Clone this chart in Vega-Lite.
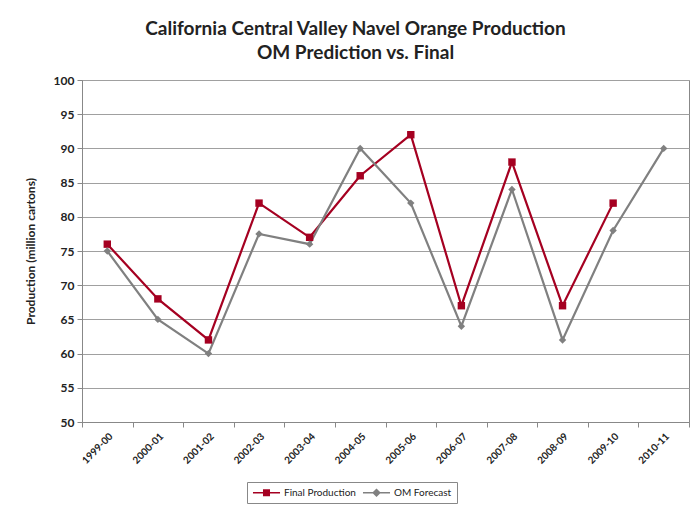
{
  "$schema": "https://vega.github.io/schema/vega-lite/v6.json",
  "width": 607,
  "height": 342,
  "autosize": {"type": "none"},
  "padding": {"left": 82, "top": 80, "right": 2, "bottom": 84},
  "background": "white",
  "title": {
    "text": ["California Central Valley Navel Orange Production", "OM Prediction vs. Final"],
    "font": "Lato",
    "fontSize": 19,
    "fontWeight": "bold",
    "color": "#222222",
    "anchor": "middle",
    "frame": "group",
    "dx": -30,
    "offset": 11,
    "lineHeight": 24
  },
  "data": {
    "values": [
      {"season": "1999-00", "series": "Final Production", "value": 76},
      {"season": "2000-01", "series": "Final Production", "value": 68},
      {"season": "2001-02", "series": "Final Production", "value": 62},
      {"season": "2002-03", "series": "Final Production", "value": 82},
      {"season": "2003-04", "series": "Final Production", "value": 77},
      {"season": "2004-05", "series": "Final Production", "value": 86},
      {"season": "2005-06", "series": "Final Production", "value": 92},
      {"season": "2006-07", "series": "Final Production", "value": 67},
      {"season": "2007-08", "series": "Final Production", "value": 88},
      {"season": "2008-09", "series": "Final Production", "value": 67},
      {"season": "2009-10", "series": "Final Production", "value": 82},
      {"season": "1999-00", "series": "OM Forecast", "value": 75},
      {"season": "2000-01", "series": "OM Forecast", "value": 65},
      {"season": "2001-02", "series": "OM Forecast", "value": 60},
      {"season": "2002-03", "series": "OM Forecast", "value": 77.5},
      {"season": "2003-04", "series": "OM Forecast", "value": 76},
      {"season": "2004-05", "series": "OM Forecast", "value": 90},
      {"season": "2005-06", "series": "OM Forecast", "value": 82},
      {"season": "2006-07", "series": "OM Forecast", "value": 64},
      {"season": "2007-08", "series": "OM Forecast", "value": 84},
      {"season": "2008-09", "series": "OM Forecast", "value": 62},
      {"season": "2009-10", "series": "OM Forecast", "value": 78},
      {"season": "2010-11", "series": "OM Forecast", "value": 90}
    ]
  },
  "encoding": {
    "x": {
      "field": "season",
      "type": "ordinal",
      "sort": ["1999-00","2000-01","2001-02","2002-03","2003-04","2004-05","2005-06","2006-07","2007-08","2008-09","2009-10","2010-11"],
      "scale": {"type": "band", "paddingInner": 0, "paddingOuter": 0},
      "axis": {
        "title": null,
        "labelAngle": -45,
        "labelAlign": "right",
        "labelBaseline": "top",
        "labelFont": "Lato",
        "labelFontSize": 10,
        "labelFontWeight": "bold",
        "labelColor": "#222222",
        "labelPadding": 4,
        "tickBand": "extent",
        "tickSize": 5,
        "tickColor": "#888888",
        "domainColor": "#888888",
        "grid": false
      }
    },
    "y": {
      "field": "value",
      "type": "quantitative",
      "scale": {"domain": [50, 100], "nice": false, "zero": false},
      "axis": {
        "values": [50, 55, 60, 65, 70, 75, 80, 85, 90, 95, 100],
        "title": "Production (million cartons)",
        "titleFont": "Lato",
        "titleFontSize": 12,
        "titleFontWeight": "bold",
        "titleColor": "#222222",
        "titlePadding": 16,
        "labelFont": "Lato",
        "labelFontSize": 12,
        "labelFontWeight": "bold",
        "labelColor": "#222222",
        "labelPadding": 3,
        "tickSize": 5,
        "tickColor": "#888888",
        "domainColor": "#888888",
        "grid": true,
        "gridColor": "#a0a0a0",
        "gridWidth": 1
      }
    }
  },
  "layer": [
    {
      "mark": {"type": "line", "strokeWidth": 2.2},
      "encoding": {
        "color": {
          "field": "series",
          "type": "nominal",
          "scale": {"domain": ["Final Production", "OM Forecast"], "range": ["#A50021", "#808080"]},
          "legend": null
        }
      }
    },
    {
      "mark": {"type": "point", "filled": true, "opacity": 1, "size": 55},
      "encoding": {
        "color": {
          "field": "series",
          "type": "nominal",
          "scale": {"domain": ["Final Production", "OM Forecast"], "range": ["#A50021", "#808080"]},
          "legend": null
        },
        "shape": {
          "field": "series",
          "type": "nominal",
          "scale": {"domain": ["Final Production", "OM Forecast"], "range": ["square", "diamond"]},
          "legend": null
        }
      }
    },
    {
      "transform": [{"filter": "false"}],
      "mark": {"type": "point", "filled": true, "opacity": 1},
      "encoding": {
        "color": {
          "field": "series",
          "type": "nominal",
          "scale": {"domain": ["Final Production", "OM Forecast"], "range": ["#A50021", "#808080"]},
          "legend": {
            "title": null,
            "orient": "none",
            "legendX": 165,
            "legendY": 402,
            "direction": "horizontal",
            "strokeColor": "#888888",
            "padding": 5,
            "labelFont": "Lato",
            "labelFontSize": 10,
            "labelColor": "#222222",
            "columnPadding": 6,
            "symbolSize": 117,
            "symbolOffset": 9,
            "labelOffset": 12,
            "symbolStrokeWidth": 0
          }
        },
        "shape": {
          "field": "series",
          "type": "nominal",
          "scale": {
            "domain": ["Final Production", "OM Forecast"],
            "range": [
              "M-2.5,-0.14H2.5V0.14H-2.5Z M-0.65,-0.65H0.65V0.65H-0.65Z",
              "M-2.5,-0.12H2.5V0.12H-2.5Z M0,-0.8L0.8,0L0,0.8L-0.8,0Z"
            ]
          },
          "legend": {
            "title": null,
            "orient": "none",
            "legendX": 165,
            "legendY": 402,
            "direction": "horizontal",
            "strokeColor": "#888888",
            "padding": 5,
            "labelFont": "Lato",
            "labelFontSize": 10,
            "labelColor": "#222222",
            "columnPadding": 6,
            "symbolSize": 117,
            "symbolOffset": 9,
            "labelOffset": 12,
            "symbolStrokeWidth": 0
          }
        }
      }
    }
  ],
  "resolve": {
    "scale": {"shape": "independent"},
    "legend": {"color": "independent", "shape": "independent"}
  },
  "config": {
    "view": {"stroke": "#888888", "strokeWidth": 1}
  }
}
